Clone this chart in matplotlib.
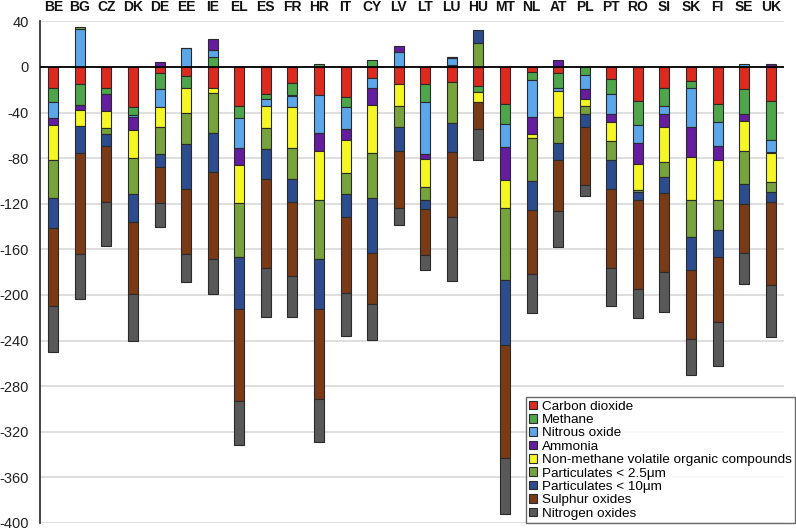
import matplotlib
matplotlib.use("Agg")
import matplotlib.pyplot as plt
import numpy as np

plt.rcParams['font.family'] = ['Liberation Sans', 'DejaVu Sans']

countries = ["BE", "BG", "CZ", "DK", "DE", "EE", "IE", "EL", "ES", "FR", "HR", "IT", "CY", "LV",
             "LT", "LU", "HU", "MT", "NL", "AT", "PL", "PT", "RO", "SI", "SK", "FI", "SE", "UK"]

pollutants = ["Carbon dioxide", "Methane", "Nitrous oxide", "Ammonia",
              "Non-methane volatile organic compounds", "Particulates < 2.5μm",
              "Particulates < 10μm", "Sulphur oxides", "Nitrogen oxides"]

carbon_dioxide = [-18, -15, -18, -35, -5.5, -7.5, -18, -34, -24, -14, -24.5, -26.5, -9.5, -14.5,
                  -14.5, -13.5, -16.5, -32.5, -4.5, -5.5, 0, -10.5, -29.5, -18, -12.5, -32.5, -19.5, -29.5]
methane = [-13, -18.5, -6, -7, -13.5, -11, 8.5, -11, -4.5, -11, 2.5, -9, 6.5, 0,
           -16, 1.5, -5, -17.5, -7, -12.5, -7, -13, -21, -16, -5.5, -16, -21.5, -34.5]
nitrous_oxide = [-14, 33, 0, -2, -16, 16.5, 6.5, -26, -6, -10, -33, -19, -9, 13,
                 -45.5, 6.5, 0, -20.5, -32.5, -3, -12.5, -17.5, -16.5, -7.5, -34.5, -20.5, 2.5, -11]
ammonia = [-6, -4, -14.5, -11, 4, 0, 9.5, -15, 0.5, 0, -16, -9.5, -15, 5,
           -5, 1, 0, -28.5, -14.5, 6, -9, -7.5, -18, -11.5, -26.5, -13, -6, 2.5]
nmvoc = [-31, -14.5, -15, -25, -18, -22, -5, -33, -19, -36, -43.5, -29, -41.5, -19.5,
         -24, 0, -9, -24.5, -3.5, -22.5, -6, -16, -23, -30.5, -38, -35, -26.5, -26]
pm25 = [-33, 2.5, -5, -31.5, -23, -27, -35, -47.5, -18, -27, -51, -18, -39.5, -19,
        -11.5, -36, 21, -63, -38, -23.5, -7, -17.5, -2, -13, -32, -26, -29.5, -9]
pm10 = [-26, -23.5, -10.5, -24.5, -12, -39.5, -34.5, -46, -26.5, -20, -44, -20.5, -48.5, -21,
        -8, -25, 11.5, -57.5, -25, -15, -11.5, -25, -7, -14, -29, -24, -17.5, -8.5]
sulphur_oxides = [-69, -88.5, -49, -63, -31, -57, -76, -80.5, -78, -65, -79, -66.5, -44.5, -49.5,
                  -40.5, -57, -24, -99, -56.5, -44, -50.5, -69.5, -78, -69.5, -61, -56.5, -42.5, -72.5]
nitrogen_oxides = [-40, -39.5, -39, -41, -21, -25, -31, -39, -43, -36.5, -38, -38, -32, -15.5,
                   -13.5, -56.5, -27.5, -49, -34, -32, -10, -33, -25, -35, -31, -38.5, -27.5, -46]

series = [carbon_dioxide, methane, nitrous_oxide, ammonia, nmvoc, pm25, pm10,
          sulphur_oxides, nitrogen_oxides]
colors = ["#dc2a1e", "#4ea64a", "#5ba7ea", "#651da0", "#f6f625", "#77a23c",
          "#2d4c8e", "#7a3a16", "#585858"]

yticks = [40, 0, -40, -80, -120, -160, -200, -240, -280, -320, -360, -400]

fig = plt.figure(figsize=(7.96, 5.31), dpi=100)
ax = fig.add_axes([40 / 796, 8 / 531, 744 / 796, (523 - 21.4) / 531])

x = np.arange(len(countries))
pos_bottom = np.zeros(len(countries))
neg_bottom = np.zeros(len(countries))
for name, vals, col in zip(pollutants, series, colors):
    v = np.array(vals, dtype=float)
    bottom = np.where(v >= 0, pos_bottom, neg_bottom)
    ax.bar(x, v, width=0.38, bottom=bottom, color=col, edgecolor="#2a2a2a",
           linewidth=0.8, label=name, zorder=3)
    pos_bottom += np.where(v >= 0, v, 0)
    neg_bottom += np.where(v < 0, v, 0)

ax.set_xlim(-0.5, len(countries) - 0.5)
ax.set_ylim(-400, 40)
ax.set_yticks(yticks)
ax.set_yticklabels([str(t) for t in yticks], fontsize=10.5, color="#222222")
ax.yaxis.grid(True, color="#d9d9d9", linewidth=1.2, zorder=0)
ax.set_axisbelow(True)
ax.axhline(0, color="black", linewidth=1.3, zorder=4)

ax.xaxis.tick_top()
ax.set_xticks(x)
ax.set_xticklabels(countries, fontsize=10, fontweight="bold", color="#111111")
ax.tick_params(axis="x", length=0, pad=5)
ax.tick_params(axis="y", length=0, pad=8)

for s in ["top", "right", "bottom"]:
    ax.spines[s].set_visible(False)
ax.spines["left"].set_color("#222222")
ax.spines["left"].set_linewidth(1.2)

leg = ax.legend(loc="lower right", bbox_to_anchor=(795 / 796, 8 / 531),
                bbox_transform=fig.transFigure, fontsize=9.7, frameon=True,
                fancybox=False, edgecolor="#444444", handlelength=0.6,
                handleheight=0.6, handletextpad=0.35, labelspacing=0.1,
                borderpad=0.25, borderaxespad=0)
leg.get_frame().set_linewidth(1.0)

fig.savefig("out.png", dpi=100)
